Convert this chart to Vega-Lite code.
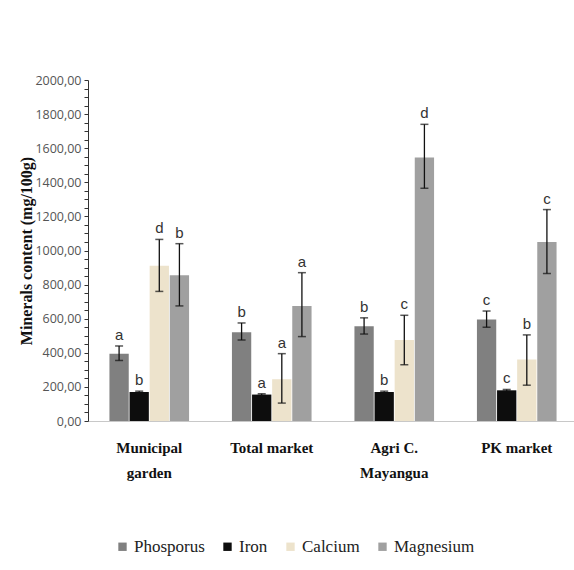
{
  "$schema": "https://vega.github.io/schema/vega-lite/v6.json",
  "width": 490,
  "height": 341,
  "autosize": "none",
  "padding": {"left": 88, "top": 80, "right": 0, "bottom": 149},
  "background": "white",
  "config": {
    "view": {"stroke": null},
    "legend": {"labelFont": "Liberation Serif", "labelFontSize": 17}
  },
  "data": {
    "values": [
      {"site": "Municipal garden", "mineral": "Phosporus", "value": 395, "lo": 355, "hi": 440, "letter": "a"},
      {"site": "Municipal garden", "mineral": "Iron", "value": 170, "lo": 165, "hi": 175, "letter": "b"},
      {"site": "Municipal garden", "mineral": "Calcium", "value": 910, "lo": 760, "hi": 1065, "letter": "d"},
      {"site": "Municipal garden", "mineral": "Magnesium", "value": 855, "lo": 675, "hi": 1040, "letter": "b"},
      {"site": "Total market", "mineral": "Phosporus", "value": 520, "lo": 475, "hi": 575, "letter": "b"},
      {"site": "Total market", "mineral": "Iron", "value": 155, "lo": 150, "hi": 160, "letter": "a"},
      {"site": "Total market", "mineral": "Calcium", "value": 245, "lo": 105, "hi": 395, "letter": "a"},
      {"site": "Total market", "mineral": "Magnesium", "value": 675, "lo": 495, "hi": 870, "letter": "a"},
      {"site": "Agri C. Mayangua", "mineral": "Phosporus", "value": 555, "lo": 510, "hi": 605, "letter": "b"},
      {"site": "Agri C. Mayangua", "mineral": "Iron", "value": 170, "lo": 165, "hi": 175, "letter": "b"},
      {"site": "Agri C. Mayangua", "mineral": "Calcium", "value": 475, "lo": 330, "hi": 620, "letter": "c"},
      {"site": "Agri C. Mayangua", "mineral": "Magnesium", "value": 1545, "lo": 1365, "hi": 1740, "letter": "d"},
      {"site": "PK market", "mineral": "Phosporus", "value": 595, "lo": 550, "hi": 645, "letter": "c"},
      {"site": "PK market", "mineral": "Iron", "value": 180, "lo": 175, "hi": 185, "letter": "c"},
      {"site": "PK market", "mineral": "Calcium", "value": 360, "lo": 210, "hi": 505, "letter": "b"},
      {"site": "PK market", "mineral": "Magnesium", "value": 1050, "lo": 865, "hi": 1240, "letter": "c"}
    ]
  },
  "encoding": {
    "x": {
      "field": "site",
      "type": "nominal",
      "sort": ["Municipal garden", "Total market", "Agri C. Mayangua", "PK market"],
      "scale": {"paddingInner": 0.35, "paddingOuter": 0.175},
      "axis": {
        "title": null,
        "labelAngle": 0,
        "ticks": false,
        "domainColor": "#c8c8c8",
        "labelFont": "Liberation Serif",
        "labelFontWeight": "bold",
        "labelFontSize": 15,
        "labelColor": "#111111",
        "labelPadding": 19,
        "labelLineHeight": 25,
        "labelBaseline": "top",
        "labelExpr": "datum.value == 'Municipal garden' ? ['Municipal', 'garden'] : datum.value == 'Agri C. Mayangua' ? ['Agri C.', 'Mayangua'] : datum.value"
      }
    },
    "xOffset": {
      "field": "mineral",
      "type": "nominal",
      "sort": ["Phosporus", "Iron", "Calcium", "Magnesium"],
      "scale": {"paddingInner": 0.04}
    }
  },
  "layer": [
    {
      "mark": {"type": "bar"},
      "encoding": {
        "y": {
          "field": "value",
          "type": "quantitative",
          "scale": {"domain": [0, 2000], "nice": false},
          "axis": {
            "title": "Minerals content (mg/100g)",
            "titleFont": "Liberation Serif",
            "titleFontWeight": "bold",
            "titleFontSize": 16,
            "titleColor": "#111111",
            "titlePadding": 0,
            "tickCount": 50,
            "tickSize": 4,
            "tickColor": "#333333",
            "domainColor": "#333333",
            "grid": false,
            "labelOverlap": false,
            "labelFont": "Open Sans",
            "labelFontSize": 12.5,
            "labelColor": "#555555",
            "labelPadding": 3,
            "labelExpr": "datum.value % 200 == 0 ? replace(format(datum.value, '.2f'), '.', ',') : ''"
          }
        },
        "color": {
          "field": "mineral",
          "type": "nominal",
          "sort": ["Phosporus", "Iron", "Calcium", "Magnesium"],
          "scale": {
            "domain": ["Phosporus", "Iron", "Calcium", "Magnesium"],
            "range": ["#808080", "#0d0d0d", "#ede3cc", "#a0a0a0"]
          },
          "legend": {
            "title": null,
            "orient": "none",
            "direction": "horizontal",
            "legendX": 26,
            "legendY": 458,
            "symbolType": "square",
            "symbolSize": 70,
            "symbolStrokeWidth": 0,
            "labelColor": "#222222",
            "labelOffset": 3,
            "labelLimit": 300,
            "columnPadding": 14
          }
        }
      }
    },
    {
      "mark": {"type": "rule", "color": "#111111", "strokeWidth": 1.3},
      "encoding": {
        "y": {"field": "lo", "type": "quantitative"},
        "y2": {"field": "hi"}
      }
    },
    {
      "mark": {"type": "tick", "color": "#111111", "size": 8, "thickness": 1.5},
      "encoding": {"y": {"field": "hi", "type": "quantitative"}}
    },
    {
      "mark": {"type": "tick", "color": "#111111", "size": 8, "thickness": 1.5},
      "encoding": {"y": {"field": "lo", "type": "quantitative"}}
    },
    {
      "mark": {"type": "text", "baseline": "bottom", "dy": -3, "font": "Liberation Sans", "fontSize": 15, "color": "#333333"},
      "encoding": {
        "y": {"field": "hi", "type": "quantitative"},
        "text": {"field": "letter"}
      }
    }
  ]
}
